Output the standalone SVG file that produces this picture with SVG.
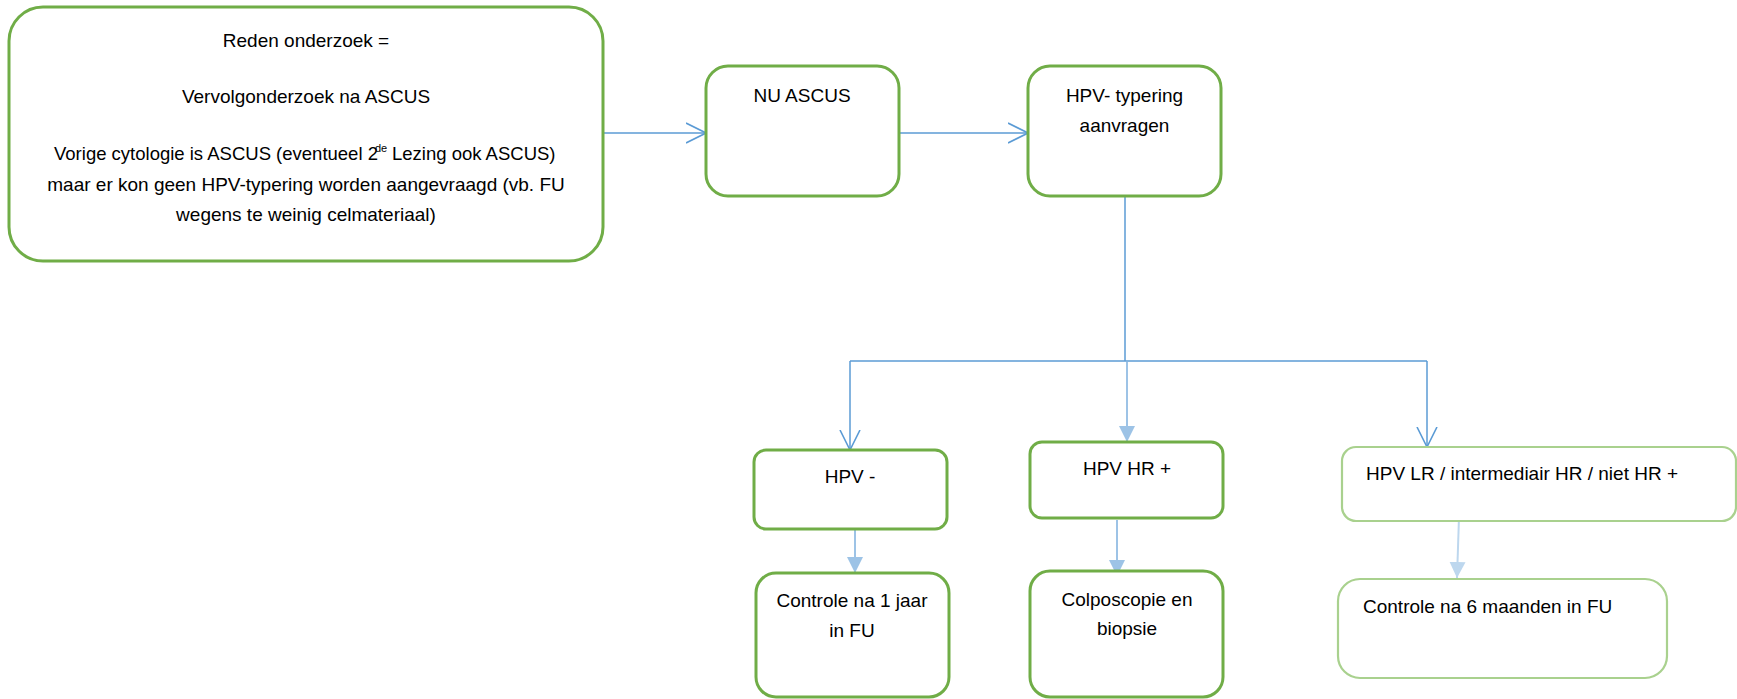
<svg xmlns="http://www.w3.org/2000/svg" width="1737" height="699" viewBox="0 0 1737 699">
<style>
.box{fill:#fff;stroke:#70AD47;stroke-width:3}
.lbox{fill:#fff;stroke:#A9D18E;stroke-width:2.2}
.t{font-family:"Liberation Sans",Arial,sans-serif;font-size:19px;fill:#000}
.c{text-anchor:middle}
.con{fill:none;stroke:#5B9BD5;stroke-width:1.5}
.con2{fill:none;stroke:#9DC3E6;stroke-width:2}
.con3{fill:none;stroke:#BDD7EE;stroke-width:2}
</style>
<defs>
<marker id="open" viewBox="0 0 20 22" refX="20" refY="11" markerWidth="20" markerHeight="22" markerUnits="userSpaceOnUse" orient="auto">
<path d="M0,1 L20,11 L0,21" fill="none" stroke="#5B9BD5" stroke-width="1.6"/>
</marker>
<marker id="fill2" viewBox="0 0 16 16" refX="16" refY="8" markerWidth="16" markerHeight="16" markerUnits="userSpaceOnUse" orient="auto">
<path d="M0,0 L16,8 L0,16 Z" fill="#9DC3E6"/>
</marker>
<marker id="fill3" viewBox="0 0 16 16" refX="16" refY="8" markerWidth="16" markerHeight="16" markerUnits="userSpaceOnUse" orient="auto">
<path d="M0,0 L16,8 L0,16 Z" fill="#BDD7EE"/>
</marker>
</defs>

<g id="connectors">
<line class="con" x1="603" y1="133" x2="706" y2="133" marker-end="url(#open)"/>
<line class="con" x1="899" y1="133" x2="1028" y2="133" marker-end="url(#open)"/>
<line class="con" x1="1125" y1="196" x2="1125" y2="361"/>
<line class="con" x1="850" y1="361" x2="1427" y2="361"/>
<line class="con" x1="850" y1="361" x2="850" y2="450" marker-end="url(#open)"/>
<line class="con" x1="1427" y1="361" x2="1427" y2="447" marker-end="url(#open)"/>
<line class="con2" x1="1127" y1="362" x2="1127" y2="442" marker-end="url(#fill2)"/>
<line class="con2" x1="855" y1="530" x2="855" y2="573" marker-end="url(#fill2)"/>
<line class="con2" x1="1117" y1="520" x2="1117" y2="576" marker-end="url(#fill2)"/>
<line class="con3" x1="1459" y1="517" x2="1457" y2="578" marker-end="url(#fill3)"/>
</g>

<g id="node-reden">
<rect class="box" x="9" y="7" width="594" height="254" rx="34" ry="34"/>
<text class="t c" x="306" y="47">Reden onderzoek =</text>
<text class="t c" x="306" y="103">Vervolgonderzoek na ASCUS</text>
<text class="t" x="54" y="160" style="font-size:18.5px">Vorige cytologie is ASCUS (eventueel 2</text>
<text class="t" x="375" y="152" style="font-size:11px">de</text>
<text class="t" x="392" y="160" style="font-size:18.5px">Lezing ook ASCUS)</text>
<text class="t c" x="306" y="191">maar er kon geen HPV-typering worden aangevraagd (vb. FU</text>
<text class="t c" x="306" y="221">wegens te weinig celmateriaal)</text>
</g>

<g id="node-nu">
<rect class="box" x="706" y="66" width="193" height="130" rx="22" ry="22"/>
<text class="t c" x="802" y="102">NU ASCUS</text>
</g>

<g id="node-hpv">
<rect class="box" x="1028" y="66" width="193" height="130" rx="22" ry="22"/>
<text class="t c" x="1124.5" y="102">HPV- typering</text>
<text class="t c" x="1124.5" y="132">aanvragen</text>
</g>

<g id="node-neg">
<rect class="box" x="754" y="450" width="193" height="79" rx="12" ry="12"/>
<text class="t c" x="850" y="483">HPV -</text>
</g>

<g id="node-hr">
<rect class="box" x="1030" y="442" width="193" height="76" rx="12" ry="12"/>
<text class="t c" x="1127" y="475">HPV HR +</text>
</g>

<g id="node-lr">
<rect class="lbox" x="1342" y="447" width="394" height="74" rx="14" ry="14"/>
<text class="t" x="1366" y="480">HPV LR / intermediair HR / niet HR +</text>
</g>

<g id="node-controle1">
<rect class="box" x="756" y="573" width="193" height="124" rx="20" ry="20"/>
<text class="t c" x="852" y="607">Controle na 1 jaar</text>
<text class="t c" x="852" y="637">in FU</text>
</g>

<g id="node-colpo">
<rect class="box" x="1030" y="571" width="193" height="126" rx="20" ry="20"/>
<text class="t c" x="1127" y="606">Colposcopie en</text>
<text class="t c" x="1127" y="635">biopsie</text>
</g>

<g id="node-controle6">
<rect class="lbox" x="1338" y="579" width="329" height="99" rx="22" ry="22"/>
<text class="t" x="1363" y="613">Controle na 6 maanden in FU</text>
</g>
</svg>
